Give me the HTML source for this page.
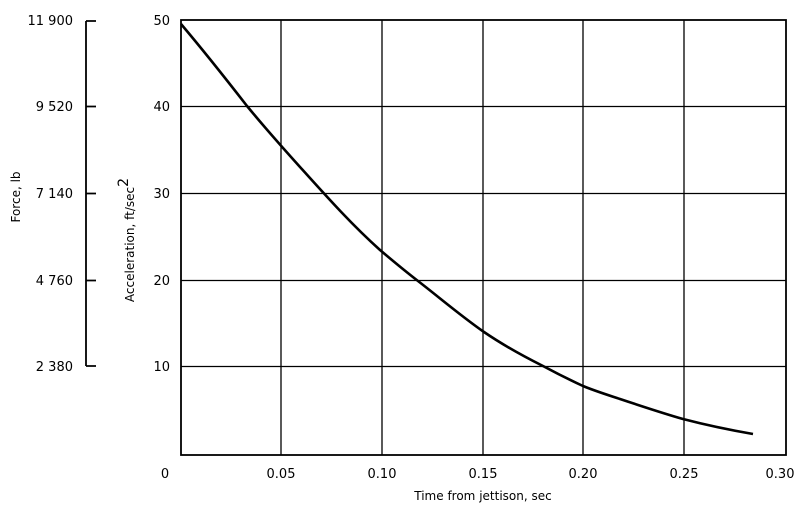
<!DOCTYPE html>
<html><head><style>body{margin:0;background:#fff}</style></head><body>
<svg width="804" height="509" xmlns="http://www.w3.org/2000/svg" font-family="'DejaVu Sans','Liberation Sans',sans-serif" fill="#000">
<rect width="804" height="509" fill="#fff"/>
<g stroke="#000" stroke-width="1.3" fill="none">
<line x1="281" y1="20" x2="281" y2="455"/>
<line x1="382" y1="20" x2="382" y2="455"/>
<line x1="483" y1="20" x2="483" y2="455"/>
<line x1="583" y1="20" x2="583" y2="455"/>
<line x1="684" y1="20" x2="684" y2="455"/>
<line x1="181" y1="106.5" x2="786" y2="106.5"/>
<line x1="181" y1="193.5" x2="786" y2="193.5"/>
<line x1="181" y1="280.5" x2="786" y2="280.5"/>
<line x1="181" y1="366.5" x2="786" y2="366.5"/>
<rect x="181" y="20" width="605" height="435" stroke-width="1.8"/>
<path d="M86,21 V366 M86,21 H96 M86,106.5 H96 M86,193.5 H96 M86,280.5 H96 M86,366 H96" stroke-width="1.8"/>
<path d="M181,24 C203,50 226,79 247,106 C265,128 282,147 300,167 C327,197 352,225 380,250 C393,261 405,271 418,281 C440,298 461,316 484,332 C503,345 523,356 543,366 C556,373 570,380 583,386 C595,391 608,395 620,399 C641,406 662,413 683,419 C706,425 730,430 753,434" stroke-width="2.6"/>
</g>
<g font-size="13" text-anchor="end">
<text x="73" y="25">11 900</text><text x="73" y="111">9 520</text><text x="73" y="198">7 140</text><text x="73" y="285">4 760</text><text x="73" y="371">2 380</text>
<text x="170" y="25">50</text><text x="170" y="111">40</text><text x="170" y="198">30</text><text x="170" y="285">20</text><text x="170" y="371">10</text>
</g>
<g font-size="13" text-anchor="middle">
<text x="165" y="478">0</text><text x="281" y="478">0.05</text><text x="382" y="478">0.10</text><text x="483" y="478">0.15</text><text x="583" y="478">0.20</text><text x="684" y="478">0.25</text><text x="780" y="478">0.30</text>
<text x="483" y="500" font-size="12">Time from jettison, sec</text>
<text transform="translate(20,197) rotate(-90)" font-size="12">Force, lb</text>
<text transform="translate(134,240) rotate(-90)" font-size="12">Acceleration, ft/sec<tspan dy="-6" font-size="14">2</tspan></text>
</g>
</svg>
</body></html>
